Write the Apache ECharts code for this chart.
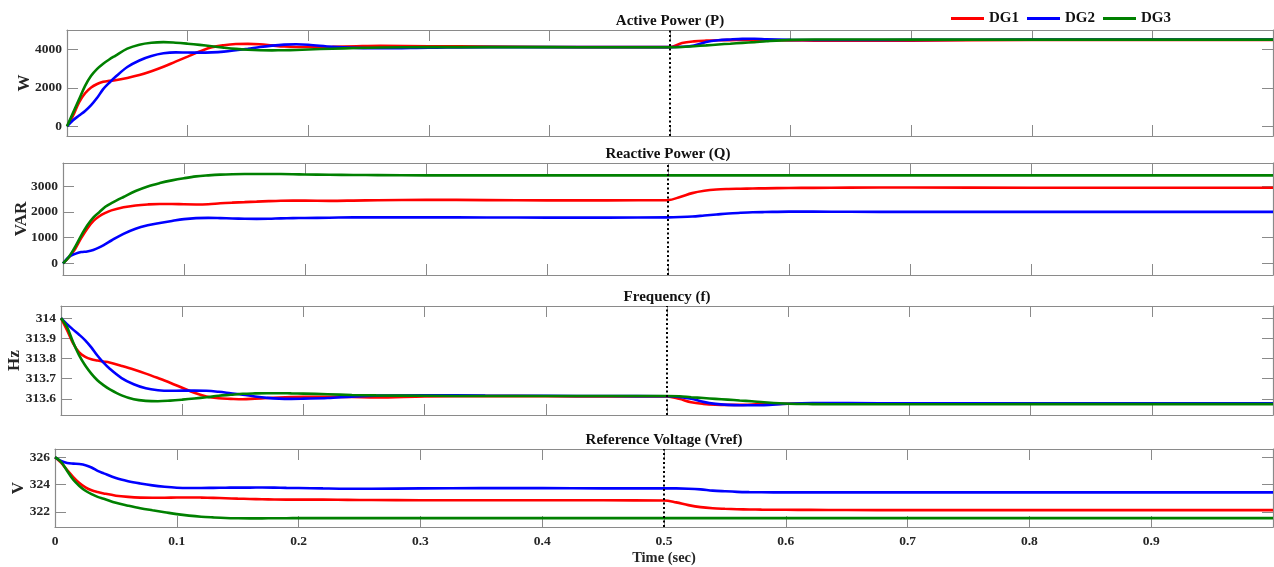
<!DOCTYPE html>
<html>
<head>
<meta charset="utf-8">
<script src="https://cdn.jsdelivr.net/npm/echarts@6/dist/echarts.min.js"></script>
<style>
  html, body { margin: 0; padding: 0; background: #ffffff; }
  #chart { width: 1274px; height: 567px; }
</style>
</head>
<body>
<div id="chart"></div>
<script>
// Simulation time base (s), shared by every trace
const time = [0, 0.005, 0.01, 0.015, 0.02, 0.025, 0.03, 0.035, 0.04, 0.05, 0.06, 0.07, 0.08, 0.09,
  0.1, 0.11, 0.12, 0.13, 0.14, 0.15, 0.16, 0.17, 0.18, 0.19, 0.2, 0.22, 0.24, 0.26, 0.3, 0.35, 0.4, 0.45,
  0.5, 0.51, 0.52, 0.53, 0.54, 0.55, 0.56, 0.57, 0.58, 0.6, 0.62, 0.65, 0.7, 0.8, 0.9, 1.0];

// Active power (W)
const pDG1 = [0, 550, 1250, 1720, 2020, 2200, 2310, 2360, 2390, 2510, 2660, 2860, 3090, 3360,
  3620, 3880, 4100, 4210, 4270, 4280, 4260, 4200, 4140, 4115, 4115, 4125, 4155, 4175, 4160, 4140, 4120, 4110,
  4110, 4320, 4410, 4450, 4470, 4475, 4480, 4480, 4475, 4460, 4450, 4440, 4450, 4480, 4490, 4490];
const pDG2 = [0, 320, 560, 800, 1100, 1480, 1930, 2260, 2560, 3080, 3420, 3650, 3790, 3840,
  3830, 3825, 3840, 3880, 3950, 4030, 4120, 4190, 4240, 4260, 4235, 4130, 4075, 4050, 4080, 4110, 4110, 4110,
  4110, 4130, 4200, 4380, 4470, 4510, 4540, 4545, 4520, 4490, 4480, 4480, 4490, 4500, 4500, 4500];
const pDG3 = [0, 700, 1400, 2100, 2620, 2980, 3250, 3470, 3660, 4030, 4240, 4340, 4370, 4340,
  4290, 4230, 4160, 4085, 4020, 3975, 3950, 3945, 3950, 3965, 3990, 4030, 4065, 4090, 4110, 4110, 4110, 4105,
  4105, 4120, 4160, 4200, 4250, 4290, 4330, 4370, 4420, 4490, 4510, 4510, 4500, 4500, 4500, 4500];

// Reactive power (VAR)
const qDG1 = [0, 240, 560, 980, 1350, 1640, 1830, 1960, 2060, 2180, 2250, 2290, 2310, 2310,
  2295, 2290, 2300, 2335, 2360, 2380, 2400, 2420, 2435, 2440, 2440, 2430, 2440, 2455, 2470, 2460, 2450, 2450,
  2460, 2580, 2730, 2820, 2870, 2890, 2900, 2910, 2915, 2930, 2935, 2945, 2950, 2940, 2940, 2940];
const qDG2 = [0, 260, 370, 440, 465, 520, 620, 750, 890, 1150, 1350, 1480, 1570, 1650,
  1720, 1760, 1770, 1760, 1745, 1735, 1730, 1735, 1750, 1760, 1765, 1775, 1790, 1790, 1790, 1785, 1780, 1780,
  1790, 1800, 1820, 1860, 1900, 1940, 1965, 1985, 1995, 2010, 2010, 2005, 2000, 2000, 2000, 2000];
const qDG3 = [0, 260, 640, 1080, 1470, 1780, 1990, 2200, 2340, 2580, 2810, 2990, 3120, 3225,
  3310, 3380, 3420, 3450, 3465, 3470, 3470, 3470, 3470, 3465, 3455, 3445, 3435, 3430, 3420, 3420, 3420, 3420,
  3420, 3420, 3420, 3420, 3420, 3420, 3420, 3420, 3420, 3420, 3420, 3420, 3420, 3420, 3420, 3420];

// Frequency (Hz)
const fDG1 = [314, 313.94, 313.875, 313.83, 313.808, 313.796, 313.79, 313.785, 313.78, 313.763, 313.745, 313.725, 313.703, 313.68,
  313.655, 313.63, 313.612, 313.603, 313.6, 313.598, 313.601, 313.604, 313.607, 313.609, 313.61, 313.61, 313.609, 313.607, 313.612, 313.614, 313.613, 313.612,
  313.612, 313.6, 313.583, 313.575, 313.571, 313.57, 313.57, 313.572, 313.574, 313.576, 313.577, 313.578, 313.578, 313.577, 313.577, 313.577];
const fDG2 = [314, 313.97, 313.943, 313.918, 313.89, 313.855, 313.815, 313.78, 313.75, 313.703, 313.672, 313.652, 313.643, 313.64,
  313.641, 313.641, 313.64, 313.635, 313.628, 313.621, 313.612, 313.605, 313.601, 313.6, 313.601, 313.604, 313.611, 313.616, 313.618, 313.616, 313.615, 313.614,
  313.613, 313.61, 313.6, 313.585, 313.575, 313.57, 313.568, 313.568, 313.569, 313.576, 313.579, 313.579, 313.578, 313.578, 313.578, 313.578];
const fDG3 = [314, 313.955, 313.88, 313.815, 313.765, 313.725, 313.692, 313.668, 313.648, 313.617, 313.598, 313.59, 313.588, 313.591,
  313.596, 313.602, 313.608, 313.615, 313.62, 313.625, 313.627, 313.628, 313.628, 313.627, 313.626, 313.623, 313.619, 313.617, 313.615, 313.614, 313.614, 313.614,
  313.614, 313.613, 313.608, 313.604, 313.6, 313.596, 313.592, 313.588, 313.583, 313.576, 313.574, 313.573, 313.573, 313.574, 313.574, 313.574];

// Reference voltage (V)
const vDG1 = [326, 325.6, 325.05, 324.55, 324.12, 323.8, 323.58, 323.45, 323.35, 323.19, 323.1, 323.05, 323.04, 323.04,
  323.06, 323.06, 323.05, 323.03, 323.0, 322.97, 322.95, 322.93, 322.91, 322.9, 322.9, 322.9, 322.88, 322.87, 322.86, 322.86, 322.85, 322.85,
  322.84, 322.7, 322.5, 322.35, 322.27, 322.23, 322.2, 322.18, 322.17, 322.16, 322.15, 322.14, 322.13, 322.13, 322.13, 322.13];
const vDG2 = [326, 325.72, 325.58, 325.53, 325.5, 325.42, 325.25, 325.0, 324.82, 324.48, 324.25, 324.08, 323.94, 323.84,
  323.77, 323.75, 323.75, 323.76, 323.77, 323.78, 323.78, 323.79, 323.78, 323.76, 323.75, 323.72, 323.7, 323.7, 323.72, 323.74, 323.74, 323.72,
  323.72, 323.72, 323.7, 323.65, 323.56, 323.51, 323.47, 323.45, 323.44, 323.43, 323.43, 323.43, 323.43, 323.43, 323.43, 323.43];
const vDG3 = [326, 325.65, 325.0, 324.35, 323.9, 323.55, 323.3, 323.1, 322.97, 322.67, 322.46, 322.27, 322.12, 321.98,
  321.84, 321.73, 321.65, 321.6, 321.56, 321.54, 321.53, 321.53, 321.54, 321.54, 321.55, 321.55, 321.55, 321.55, 321.55, 321.55, 321.55, 321.55,
  321.55, 321.55, 321.55, 321.55, 321.55, 321.55, 321.55, 321.55, 321.55, 321.55, 321.55, 321.55, 321.55, 321.55, 321.55, 321.55];

const seriesNames = ['DG1', 'DG2', 'DG3'];
const seriesColors = ['#ff0000', '#0000ff', '#008000'];
const panelTitles = ['Active Power (P)', 'Reactive Power (Q)', 'Frequency (f)', 'Reference Voltage (Vref)'];
const unitNames = ['W', 'VAR', 'Hz', 'V'];
const yTicks = [
  [0, 2000, 4000],
  [0, 1000, 2000, 3000],
  [313.6, 313.7, 313.8, 313.9, 314],
  [322, 324, 326]
];
const yRanges = [[-500, 5000], [-450, 3900], [313.52, 314.06], [320.9, 326.6]];
const panelData = [
  [pDG1, pDG2, pDG3],
  [qDG1, qDG2, qDG3],
  [fDG1, fDG2, fDG3],
  [vDG1, vDG2, vDG3]
];
const eventTime = 0.5;

// Plot boxes (px)
const boxes = [
  { left: 67, top: 30, width: 1206, height: 106, nameGap: 34 },
  { left: 63, top: 163, width: 1210, height: 112, nameGap: 33 },
  { left: 61, top: 306, width: 1212, height: 109, nameGap: 38 },
  { left: 55, top: 449, width: 1218, height: 78, nameGap: 28 }
];

const FONT = "'Liberation Serif', 'Times New Roman', serif";
const frameColor = '#8a8a8a';

const grid = [], xAxis = [], yAxis = [], series = [], title = [];

boxes.forEach((b, g) => {
  grid.push({
    left: b.left, top: b.top, width: b.width, height: b.height,
    containLabel: false, outerBoundsMode: 'none'
  });

  title.push({
    text: panelTitles[g],
    left: b.left + b.width / 2,
    top: b.top - 16,
    textAlign: 'center',
    padding: 0,
    textStyle: { fontFamily: FONT, fontWeight: 'bold', fontSize: 15, color: '#111' }
  });

  const tickStyle = { show: true, inside: true, length: 11, lineStyle: { color: frameColor, width: 1 } };
  const lineStyle = { show: true, onZero: false, lineStyle: { color: frameColor, width: 1.2 } };

  // bottom & top time axes
  xAxis.push({
    type: 'value', gridIndex: g, position: 'bottom', min: 0, max: 1, interval: 0.1,
    axisLine: lineStyle, axisTick: tickStyle, splitLine: { show: false },
    axisLabel: {
      show: g === 3, margin: 8, showMaxLabel: false,
      fontFamily: FONT, fontWeight: 'bold', fontSize: 13.5, color: '#262626',
      formatter: v => String(+v.toFixed(1))
    },
    name: g === 3 ? 'Time (sec)' : '', nameLocation: 'middle', nameGap: 24, nameMoveOverlap: false,
    nameTextStyle: { fontFamily: FONT, fontWeight: 'bold', fontSize: 14.5, color: '#262626' }
  });
  xAxis.push({
    type: 'value', gridIndex: g, position: 'top', min: 0, max: 1, interval: 0.1,
    axisLine: lineStyle, axisTick: tickStyle, splitLine: { show: false },
    axisLabel: { show: false }
  });

  // left & right value axes
  yAxis.push({
    type: 'value', gridIndex: g, position: 'left', min: yRanges[g][0], max: yRanges[g][1],
    axisLine: lineStyle,
    axisTick: Object.assign({}, tickStyle, { customValues: yTicks[g] }),
    splitLine: { show: false },
    axisLabel: {
      show: true, margin: 5, customValues: yTicks[g],
      fontFamily: FONT, fontWeight: 'bold', fontSize: 13.5, color: '#262626',
      formatter: v => String(+v.toFixed(1))
    },
    name: unitNames[g], nameLocation: 'middle', nameGap: b.nameGap, nameRotate: 90,
    nameMoveOverlap: false,
    nameTextStyle: { fontFamily: FONT, fontWeight: 'bold', fontSize: 17, color: '#262626' }
  });
  yAxis.push({
    type: 'value', gridIndex: g, position: 'right', min: yRanges[g][0], max: yRanges[g][1],
    axisLine: lineStyle,
    axisTick: Object.assign({}, tickStyle, { customValues: yTicks[g] }),
    splitLine: { show: false },
    axisLabel: { show: false, customValues: yTicks[g] }
  });

  panelData[g].forEach((vals, k) => {
    const s = {
      name: seriesNames[k], type: 'line',
      xAxisIndex: 2 * g, yAxisIndex: 2 * g,
      data: time.map((t, i) => [t, vals[i]]),
      showSymbol: false, symbol: 'none', smooth: 0.35,
      lineStyle: { color: seriesColors[k], width: 2.6 },
      itemStyle: { color: seriesColors[k] },
      clip: true
    };
    if (k === 2) {
      // load-change instant
      s.markLine = {
        silent: true, symbol: ['none', 'none'], animation: false,
        label: { show: false },
        lineStyle: { color: '#000', width: 2, type: [2, 2.5] },
        data: [{ xAxis: eventTime }]
      };
    }
    series.push(s);
  });
});

const chart = echarts.init(document.getElementById('chart'), null, { renderer: 'canvas' });
chart.setOption({
  animation: false,
  backgroundColor: '#ffffff',
  title: title,
  legend: {
    data: seriesNames,
    left: 951, top: 11, padding: 0,
    icon: 'rect', itemWidth: 33, itemHeight: 3, itemGap: 8,
    textStyle: { fontFamily: FONT, fontWeight: 'bold', fontSize: 15, color: '#111' }
  },
  grid: grid,
  xAxis: xAxis,
  yAxis: yAxis,
  series: series
});
</script>
</body>
</html>
